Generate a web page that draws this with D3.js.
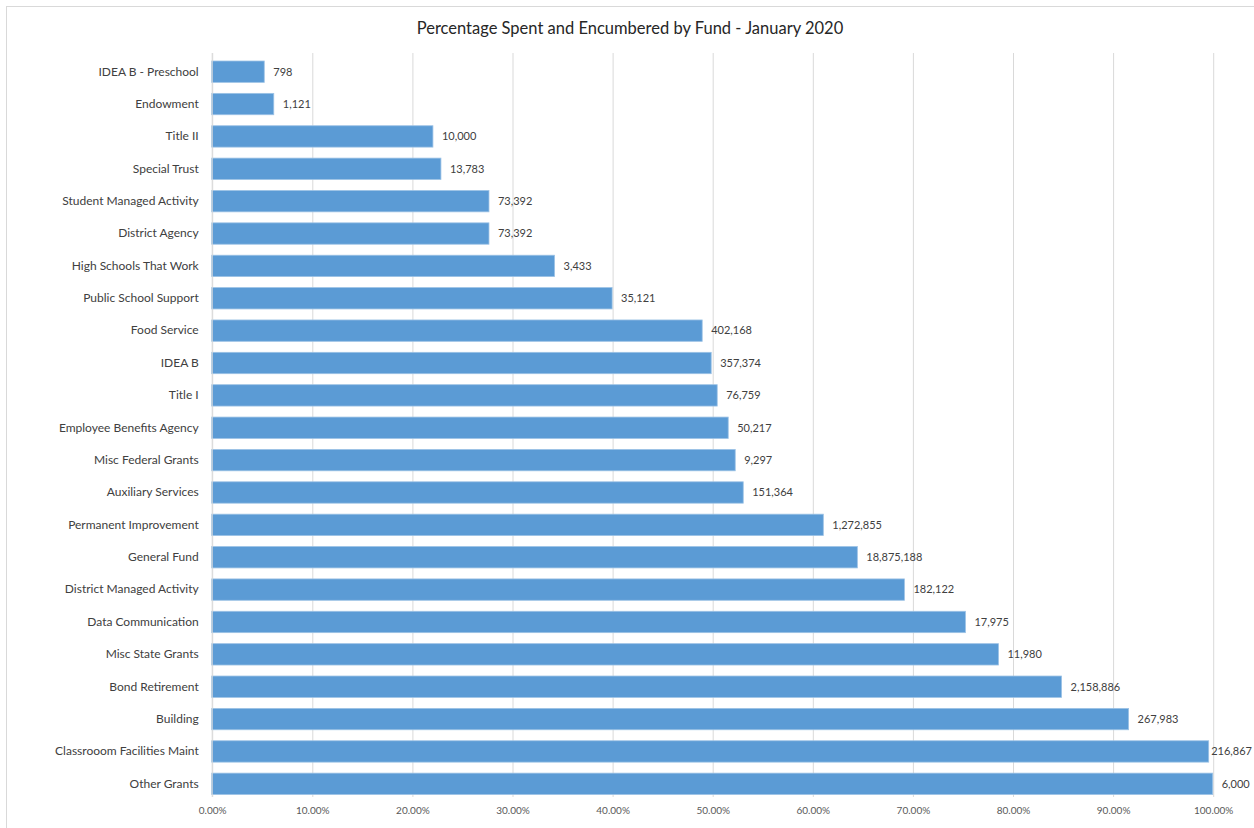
<!DOCTYPE html>
<html>
<head>
<meta charset="utf-8">
<script src="https://cdn.jsdelivr.net/npm/d3@7"></script>
<style>
  html, body { margin: 0; padding: 0; background: #ffffff; }
  svg { display: block; font-family: Lato, "Open Sans", "Liberation Sans", sans-serif; }
</style>
</head>
<body>
<svg id="chart" width="1254" height="828"></svg>
<script>
// Fund names, top to bottom
const funds = [
  "IDEA B - Preschool", "Endowment", "Title II", "Special Trust",
  "Student Managed Activity", "District Agency", "High Schools That Work",
  "Public School Support", "Food Service", "IDEA B", "Title I",
  "Employee Benefits Agency", "Misc Federal Grants", "Auxiliary Services",
  "Permanent Improvement", "General Fund", "District Managed Activity",
  "Data Communication", "Misc State Grants", "Bond Retirement", "Building",
  "Classrooom Facilities Maint", "Other Grants"
];

// Share of budget spent and encumbered (fraction of 1)
const pctSpent = [
  0.0525, 0.062, 0.221, 0.229,
  0.277, 0.277, 0.3425,
  0.400, 0.490, 0.499, 0.505,
  0.516, 0.523, 0.531,
  0.611, 0.645, 0.692,
  0.753, 0.786, 0.849, 0.916,
  0.996, 1.000
];

// Dollar amount shown beside each bar
const amounts = [
  798, 1121, 10000, 13783,
  73392, 73392, 3433,
  35121, 402168, 357374, 76759,
  50217, 9297, 151364,
  1272855, 18875188, 182122,
  17975, 11980, 2158886, 267983,
  216867, 6000
];

const xTicks = [0, 0.1, 0.2, 0.3, 0.4, 0.5, 0.6, 0.7, 0.8, 0.9, 1.0];

const title = "Percentage Spent and Encumbered by Fund - January 2020";

const svg = d3.select("#chart");
const W = 1254;
const plot = { left: 211.7, right: 1212.7, top: 55.5, bottom: 800 };

const x = d3.scaleLinear().domain([0, 1]).range([plot.left, plot.right]);
const y = d3.scaleBand().domain(funds).range([plot.top, plot.bottom]).paddingInner(0.34).paddingOuter(0.17);

// Chart frame (top and left edges)
svg.append("line").attr("x1", 6).attr("x2", W).attr("y1", 6.5).attr("y2", 6.5)
  .attr("stroke", "#d9d9d9").attr("stroke-width", 1);
svg.append("line").attr("x1", 6.5).attr("x2", 6.5).attr("y1", 6).attr("y2", 828)
  .attr("stroke", "#d9d9d9").attr("stroke-width", 1);

// Title
svg.append("text")
  .attr("x", 630).attr("y", 34)
  .attr("text-anchor", "middle")
  .attr("font-size", 16.5)
  .attr("fill", "#262626")
  .text(title);

// Vertical gridlines and bottom tick labels
const xAxis = d3.axisBottom(x)
  .tickValues(xTicks)
  .tickFormat(d3.format(".2%"))
  .tickSize(-(797 - 53))
  .tickPadding(10);

const gx = svg.append("g")
  .attr("transform", `translate(0.5,797)`)
  .call(xAxis);
gx.select(".domain").remove();
gx.selectAll(".tick line").attr("stroke", "#d9d9d9").attr("stroke-width", 1);
gx.selectAll(".tick text")
  .attr("font-size", 10)
  .attr("fill", "#595959")
  .attr("font-family", "Lato, 'Open Sans', sans-serif");

// Bars
svg.append("g").selectAll("rect")
  .data(funds)
  .join("rect")
  .attr("x", x(0))
  .attr("y", d => y(d))
  .attr("width", (d, i) => x(pctSpent[i]) - x(0))
  .attr("height", y.bandwidth())
  .attr("fill", "#5b9bd5")
  .attr("stroke", "#9cc2e5")
  .attr("stroke-width", 0.8);

// Category axis line
svg.append("line")
  .attr("x1", x(0) + 0.5).attr("x2", x(0) + 0.5)
  .attr("y1", 53).attr("y2", 797)
  .attr("stroke", "#d9d9d9");

// Category labels
const gy = svg.append("g")
  .attr("transform", `translate(${x(0) - 13},0)`)
  .call(d3.axisLeft(y).tickSize(0).tickPadding(0));
gy.select(".domain").remove();
gy.selectAll(".tick text")
  .attr("font-size", 12)
  .attr("fill", "#404040")
  .attr("font-family", "Lato, 'Open Sans', sans-serif");

// Amount labels, nudged left when they would run past the right edge
const fmt = d3.format(",");
svg.append("g").selectAll("text")
  .data(funds)
  .join("text")
  .attr("x", (d, i) => x(pctSpent[i]) + 9)
  .attr("y", d => y(d) + y.bandwidth() / 2)
  .attr("dy", "0.35em")
  .attr("font-size", 11)
  .attr("fill", "#404040")
  .text((d, i) => fmt(amounts[i]))
  .each(function () {
    const t = d3.select(this);
    const len = this.getComputedTextLength();
    const x0 = +t.attr("x");
    if (x0 + len > W - 2) t.attr("x", W - 2 - len);
  });
</script>
</body>
</html>
